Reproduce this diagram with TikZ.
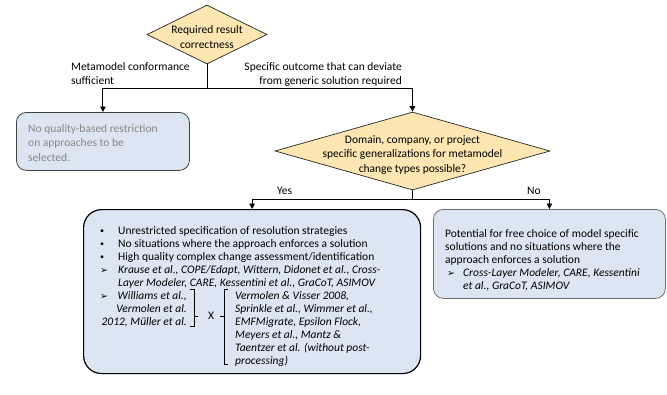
\documentclass[tikz,border=0pt]{standalone}
\usepackage{fontspec}
\setmainfont{Carlito}
\newfontfamily\symfont{DejaVu Sans}
\usetikzlibrary{shapes.geometric,arrows.meta}
\definecolor{dfill}{RGB}{253,230,178}
\definecolor{bfill}{RGB}{220,230,242}
\definecolor{graytxt}{RGB}{135,135,135}
\definecolor{grayline}{RGB}{110,110,110}
\newcommand{\fs}{\fontsize{11.5}{14.6}\selectfont}
\newcommand{\fsb}{\fontsize{11.5}{13}\selectfont}
\newcommand{\arrsym}{{\symfont\fontsize{9.5}{9.5}\selectfont ➢}}
\newcommand{\bul}{{\fontsize{8}{8}\selectfont\raisebox{0.8pt}{•}}}
\begin{document}
\begin{tikzpicture}[x=1pt,y=-1pt,
  dia/.style={diamond, draw=black!85, line width=0.7pt, fill=dfill, inner sep=0pt},
  box/.style={rectangle, fill=bfill, anchor=north west, inner sep=0pt},
  txt/.style={font=\fs, inner sep=0pt, align=left, anchor=north west},
  conn/.style={draw=black, line width=0.9pt},
  arr/.style={conn, -{Triangle[length=5.5pt,width=5.5pt]}},
  brk/.style={draw=black, line width=0.6pt}
]
\useasboundingbox (0,0) rectangle (667,394);

% diamonds
\node[dia, minimum width=120pt, minimum height=59pt] (d1) at (207,34.5) {};
\node[font=\fs, align=center, inner sep=0pt] (d1t) at (207,37) {Required result\\correctness};
\node[dia, minimum width=275pt, minimum height=78pt] (d2) at (412.5,151) {};
\node[font=\fs, align=center, inner sep=0pt] (d2t) at (412.5,155) {Domain, company, or project\\specific generalizations for metamodel\\change types possible?};

% boxes
\node[box, draw=black!75, line width=0.8pt, rounded corners=10pt, minimum width=173pt, minimum height=58pt] (b1) at (16,112) {};
\node[box, draw=black, line width=1.2pt, rounded corners=18pt, minimum width=337pt, minimum height=164pt] (b2) at (83,209) {};
\node[box, draw=grayline, line width=0.8pt, rounded corners=10pt, minimum width=232pt, minimum height=89pt] (b3) at (433,209) {};

% connectors
\coordinate (j1) at (207,88.5);
\coordinate (j2) at (412.5,199.5);
\draw[conn] (d1.south) -- (j1);
\draw[arr] (j1) -| (b1.north);
\draw[arr] (j1) -| (d2.north);
\draw[conn] (d2.south) -- (j2);
\draw[arr] (j2) -| (b2.north);
\draw[arr] (j2) -| (b3.north);

% edge labels
\node[txt] (l1) at (71,59.6) {\strut Metamodel conformance\\sufficient};
\node[txt, align=right, anchor=north east] (l2) at (402,59.6) {\strut Specific outcome that can deviate\\from generic solution required};
\node[txt] (lyes) at (277,183.6) {\strut Yes};
\node[txt] (lno) at (527,183.6) {\strut No};

% box texts
\node[txt, text=graytxt] (t1) at (28,121.6) {\strut No quality-based restriction\\on approaches to be\\selected.};

\node[txt, font=\fsb] (t2) at (100,224.7) {\strut\makebox[18pt][l]{\bul}Unrestricted specification of resolution strategies\\
\makebox[18pt][l]{\bul}No situations where the approach enforces a solution\\
\makebox[18pt][l]{\bul}High quality complex change assessment/identification\\
\makebox[18pt][l]{\arrsym}\textit{Krause et al., COPE/Edapt, Wittern, Didonet et al., Cross-}\\
\hspace*{18pt}\textit{Layer Modeler, CARE, Kessentini et al., GraCoT, ASIMOV}};

\node[txt, font=\fsb] (t2a) at (100,289.7) {\strut\arrsym};
\node[txt, align=right, anchor=north east, font=\fsb\itshape] (t2b) at (187,289.7) {\strut Williams et al.,\\Vermolen et al.\\2012, Müller et al.};
\node[font=\fs, inner sep=0pt] (tx) at (211,316) {X};
\node[txt, font=\fsb\itshape] (t2c) at (235,289.7) {\strut Vermolen \& Visser 2008,\\Sprinkle et al., Wimmer et al.,\\EMFMigrate, Epsilon Flock,\\Meyers et al., Mantz \&\\Taentzer et al. (without post-\\processing)};

% brackets
\draw[brk] (190,289) -- (194,289) -- (194,326) -- (190,326);
\draw[brk] (194,316) -- (198,316);
\draw[brk] (228,289) -- (224,289) -- (224,364) -- (228,364);
\draw[brk] (224,316) -- (220,316);

\node[txt, font=\fsb] (t3) at (445,227.7) {\strut Potential for free choice of model specific\\solutions and no situations where the\\approach enforces a solution\\
\makebox[18pt][l]{\hspace{2pt}\arrsym}\textit{Cross-Layer Modeler, CARE, Kessentini}\\
\hspace*{18pt}\textit{et al., GraCoT, ASIMOV}};
\end{tikzpicture}
\end{document}
